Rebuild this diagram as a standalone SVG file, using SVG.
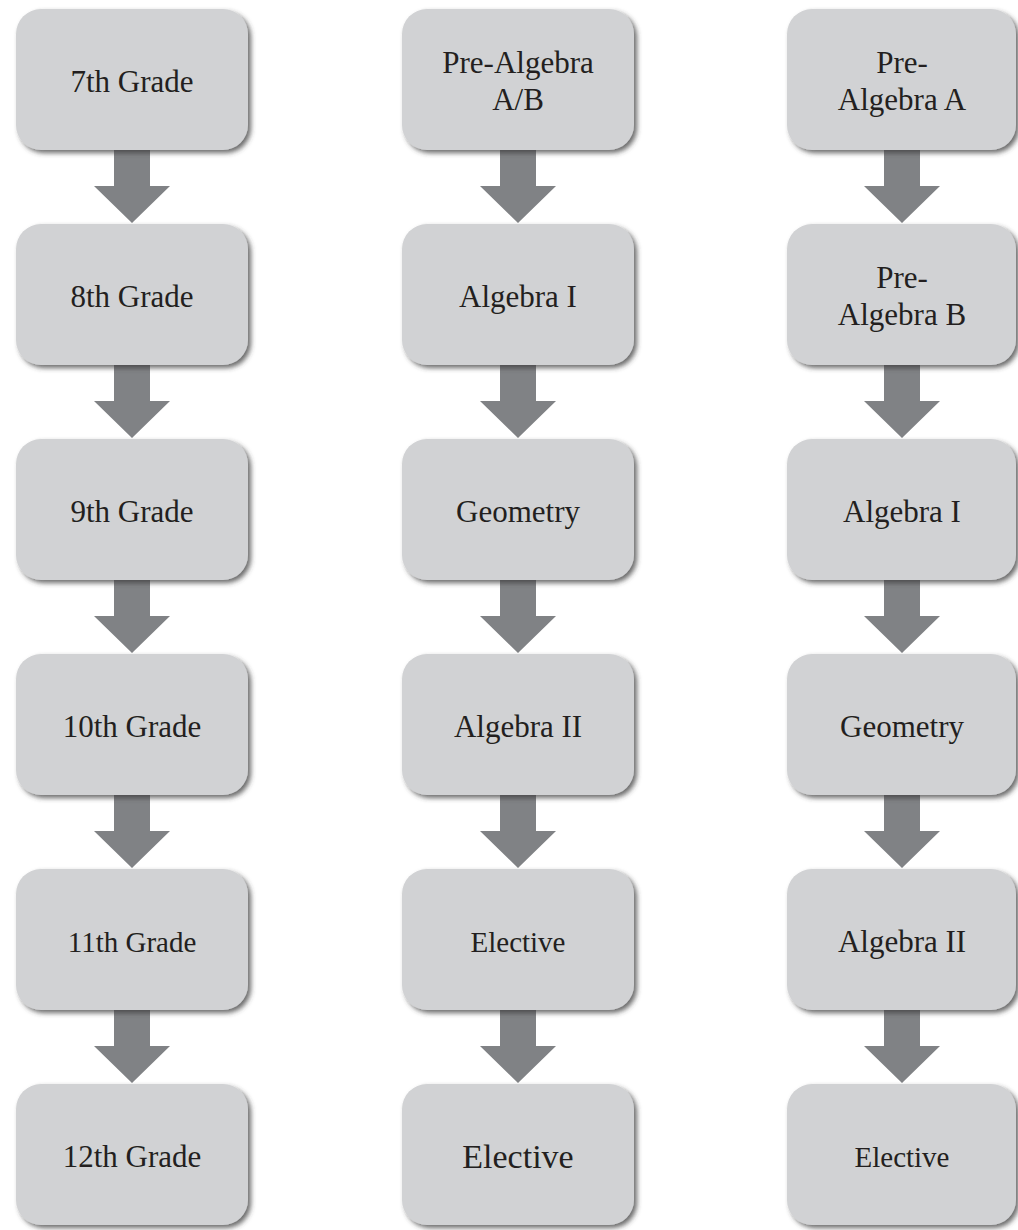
<svg xmlns="http://www.w3.org/2000/svg" width="1018" height="1230" viewBox="0 0 1018 1230">
<defs>
<filter id="sh" x="-10%" y="-10%" width="125%" height="130%">
<feDropShadow dx="3" dy="3" stdDeviation="2.5" flood-color="#3a3a3a" flood-opacity="0.75"/>
</filter>
<path id="arr" d="M-18,0 H18 V36 H38 L0,73 L-38,36 H-18 Z"/>
</defs>
<style>
.box{fill:#d1d2d4;filter:url(#sh)}
.t{font-family:"Liberation Serif","Times New Roman",serif;font-size:31px;fill:#231f20;text-anchor:middle}
.a{fill:#808285}
</style>
<rect width="1018" height="1230" fill="#ffffff"/>
<g id="connectors">
<use href="#arr" class="a" x="132" y="150"/>
<use href="#arr" class="a" x="132" y="365"/>
<use href="#arr" class="a" x="132" y="580"/>
<use href="#arr" class="a" x="132" y="795"/>
<use href="#arr" class="a" x="132" y="1010"/>
<use href="#arr" class="a" x="518" y="150"/>
<use href="#arr" class="a" x="518" y="365"/>
<use href="#arr" class="a" x="518" y="580"/>
<use href="#arr" class="a" x="518" y="795"/>
<use href="#arr" class="a" x="518" y="1010"/>
<use href="#arr" class="a" x="902" y="150"/>
<use href="#arr" class="a" x="902" y="365"/>
<use href="#arr" class="a" x="902" y="580"/>
<use href="#arr" class="a" x="902" y="795"/>
<use href="#arr" class="a" x="902" y="1010"/>
</g>
<g id="n-7th"><rect class="box" x="16" y="9" width="232" height="141" rx="25"/><text class="t" x="132" y="92">7th Grade</text></g>
<g id="n-8th"><rect class="box" x="16" y="224" width="232" height="141" rx="25"/><text class="t" x="132" y="307">8th Grade</text></g>
<g id="n-9th"><rect class="box" x="16" y="439" width="232" height="141" rx="25"/><text class="t" x="132" y="522">9th Grade</text></g>
<g id="n-10th"><rect class="box" x="16" y="654" width="232" height="141" rx="25"/><text class="t" x="132" y="737">10th Grade</text></g>
<g id="n-11th"><rect class="box" x="16" y="869" width="232" height="141" rx="25"/><text class="t" x="132" y="952" style="font-size:29px">11th Grade</text></g>
<g id="n-12th"><rect class="box" x="16" y="1084" width="232" height="141" rx="25"/><text class="t" x="132" y="1167">12th Grade</text></g>

<g id="n-prealgab"><rect class="box" x="402" y="9" width="232" height="141" rx="25"/><text class="t" x="518" y="73">Pre-Algebra</text><text class="t" x="518" y="110">A/B</text></g>
<g id="n-alg1-b"><rect class="box" x="402" y="224" width="232" height="141" rx="25"/><text class="t" x="518" y="307">Algebra I</text></g>
<g id="n-geo-b"><rect class="box" x="402" y="439" width="232" height="141" rx="25"/><text class="t" x="518" y="522">Geometry</text></g>
<g id="n-alg2-b"><rect class="box" x="402" y="654" width="232" height="141" rx="25"/><text class="t" x="518" y="737">Algebra II</text></g>
<g id="n-elec1-b"><rect class="box" x="402" y="869" width="232" height="141" rx="25"/><text class="t" x="518" y="952" style="font-size:29px">Elective</text></g>
<g id="n-elec2-b"><rect class="box" x="402" y="1084" width="232" height="141" rx="25"/><text class="t" x="518" y="1168" style="font-size:34px">Elective</text></g>

<g id="n-prealga"><rect class="box" x="787" y="9" width="229" height="141" rx="25"/><text class="t" x="902" y="73">Pre-</text><text class="t" x="902" y="110">Algebra A</text></g>
<g id="n-prealgb"><rect class="box" x="787" y="224" width="229" height="141" rx="25"/><text class="t" x="902" y="288">Pre-</text><text class="t" x="902" y="325">Algebra B</text></g>
<g id="n-alg1-c"><rect class="box" x="787" y="439" width="229" height="141" rx="25"/><text class="t" x="902" y="522">Algebra I</text></g>
<g id="n-geo-c"><rect class="box" x="787" y="654" width="229" height="141" rx="25"/><text class="t" x="902" y="737">Geometry</text></g>
<g id="n-alg2-c"><rect class="box" x="787" y="869" width="229" height="141" rx="25"/><text class="t" x="902" y="952">Algebra II</text></g>
<g id="n-elec-c"><rect class="box" x="787" y="1084" width="229" height="141" rx="25"/><text class="t" x="902" y="1167" style="font-size:29px">Elective</text></g>
</svg>
